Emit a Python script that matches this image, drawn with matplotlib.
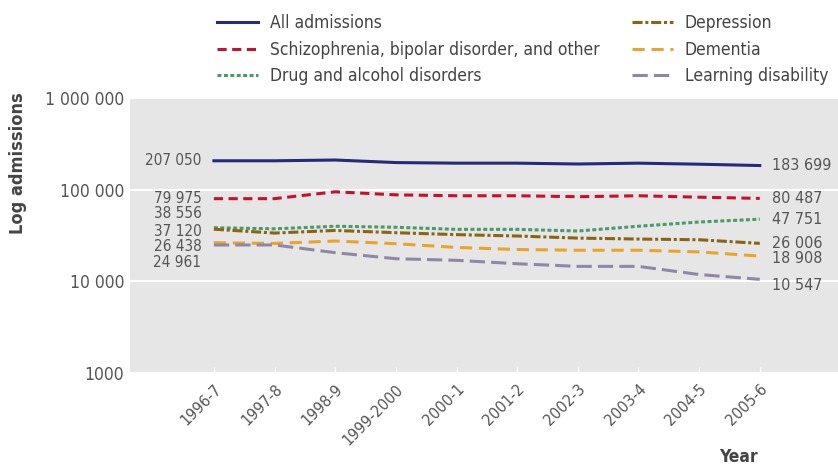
import matplotlib
matplotlib.use("Agg")
import matplotlib.pyplot as plt
from matplotlib.ticker import FixedLocator, NullLocator

plt.rcParams['font.family'] = ['DejaVu Sans']
plt.rcParams['font.stretch'] = 'condensed'

# data
years = ["1996-7", "1997-8", "1998-9", "1999-2000", "2000-1",
         "2001-2", "2002-3", "2003-4", "2004-5", "2005-6"]
all_adm = [207050, 207000, 211000, 198000, 195000, 195000, 191000, 195000, 190000, 183699]
schizo = [79975, 80000, 95000, 88000, 86000, 86000, 84000, 86000, 83000, 80487]
drug = [38556, 37500, 40000, 39000, 37000, 37000, 35500, 40000, 44500, 47751]
depression = [37120, 33700, 36000, 34000, 32400, 31300, 29700, 29000, 28500, 26006]
dementia = [26438, 26000, 27600, 25800, 23500, 22300, 21900, 21900, 21000, 18908]
learning = [24961, 25000, 20600, 17700, 17000, 15600, 14600, 14600, 11900, 10547]

names = ["All admissions", "Schizophrenia, bipolar disorder, and other",
         "Drug and alcohol disorders", "Depression", "Dementia", "Learning disability"]
series = [all_adm, schizo, drug, depression, dementia, learning]
colors = ["#262a78", "#c8102e", "#4a9a6a", "#8a6412", "#e8a529", "#8f87a8"]
dashes = [None, (3, 1.8), (1.3, 0.8), (3.3, 0.9, 1, 0.9), (4, 2.2), (5, 2)]
# label offsets in points (start, end)
start_off = [0, 0, 10, -1.5, -3, -12.5]
end_off = [0, 0, 0, 0, -2, -4.5]

fig = plt.figure(figsize=(8.38, 4.67), dpi=100)
ax = fig.add_axes([0.155, 0.201, 0.845, 0.589])
ax.set_facecolor("#e6e6e6")
x = list(range(len(years)))

handles = []
for s, name, c, d in zip(series, names, colors, dashes):
    if d is None:
        h, = ax.plot(x, s, color=c, lw=2.2, label=name)
    else:
        h, = ax.plot(x, s, color=c, lw=2.2, label=name, dashes=d)
    handles.append(h)

for s, so, eo in zip(series, start_off, end_off):
    ax.annotate(f"{s[0]:,}".replace(",", " "), (x[0], s[0]), xytext=(-9, so),
                textcoords="offset points", ha="right", va="center",
                fontsize=11, color="#555555")
    ax.annotate(f"{s[-1]:,}".replace(",", " "), (x[-1], s[-1]), xytext=(9, eo),
                textcoords="offset points", ha="left", va="center",
                fontsize=11.5, color="#555555")

ax.set_yscale("log")
ax.set_ylim(1000, 1e6)
ax.set_xlim(-1.385, 10.29)
ax.yaxis.set_major_locator(FixedLocator([1000, 10000, 100000, 1000000]))
ax.yaxis.set_minor_locator(NullLocator())
ax.set_yticklabels(["1000", "10 000", "100 000", "1 000 000"])
ax.set_xticks(x)
ax.set_xticklabels(years, rotation=45, ha="right", rotation_mode="anchor")
ax.tick_params(axis="y", length=0, labelsize=12.5, labelcolor="#555555", pad=4)
ax.tick_params(axis="x", direction="in", length=4, color="white", width=1,
               labelsize=11.5, labelcolor="#555555", pad=6)
ax.grid(axis="y", color="white", lw=1.5)
ax.set_axisbelow(True)
for sp in ax.spines.values():
    sp.set_visible(False)

fig.text(0.022, 0.65, "Log admissions", rotation=90, ha="center", va="center",
         fontsize=13, fontweight="bold", color="#444444")
fig.text(0.904, 0.01, "Year", ha="right", va="baseline",
         fontsize=12.5, fontweight="bold", color="#444444")

fig.legend(handles=handles, ncol=2, loc="upper left", bbox_to_anchor=(0.2446, 0.996),
           frameon=False, fontsize=12.5, handlelength=2.36, handletextpad=0.69,
           columnspacing=1.85, labelspacing=0.5, labelcolor="#444444",
           borderaxespad=0.3)

fig.savefig("out.png", dpi=100)
